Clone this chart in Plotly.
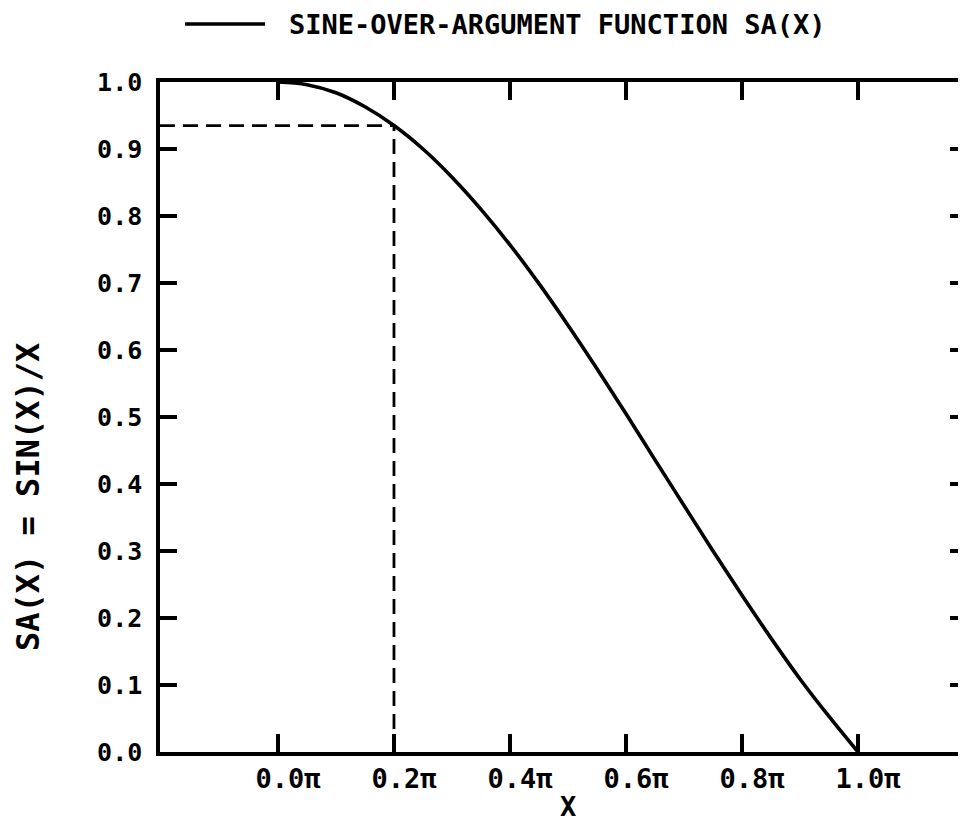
import plotly.graph_objects as go

# Curve values (x in units of pi)
x_pi = [0.0, 0.05, 0.1, 0.15, 0.2, 0.25, 0.3, 0.35, 0.4, 0.45, 0.5,
        0.55, 0.6, 0.65, 0.7, 0.75, 0.8, 0.85, 0.9, 0.95, 1.0]
sa_vals = [1.0, 0.996, 0.984, 0.963, 0.935, 0.900, 0.858, 0.810, 0.757, 0.699, 0.637,
           0.572, 0.505, 0.436, 0.368, 0.300, 0.234, 0.170, 0.109, 0.053, 0.0]

# Marked point (dashed guide lines)
mark_x = 0.2
mark_y = 0.935

x_ticks = [0.0, 0.2, 0.4, 0.6, 0.8, 1.0]
x_ticktext = ["0.0π", "0.2π", "0.4π", "0.6π", "0.8π", "1.0π"]
y_ticks = [0.0, 0.1, 0.2, 0.3, 0.4, 0.5, 0.6, 0.7, 0.8, 0.9, 1.0]
y_ticktext = ["0.0", "0.1", "0.2", "0.3", "0.4", "0.5", "0.6", "0.7", "0.8", "0.9", "1.0"]

x_range = [-0.2034, 1.1724]
y_range = [0.0, 1.0]

FONT = "DejaVu Sans Mono"

fig = go.Figure()

fig.add_trace(go.Scatter(x=[x_range[0], mark_x], y=[mark_y, mark_y], mode="lines",
                         line=dict(color="black", width=2.8, dash="15px,8px"),
                         showlegend=False, hoverinfo="skip"))
fig.add_trace(go.Scatter(x=[mark_x, mark_x], y=[y_range[0], mark_y], mode="lines",
                         line=dict(color="black", width=2.8, dash="15px,8px"),
                         showlegend=False, hoverinfo="skip"))

fig.add_trace(go.Scatter(x=x_pi, y=sa_vals, mode="lines",
                         line=dict(color="black", width=3.6, shape="spline"),
                         name="SINE-OVER-ARGUMENT FUNCTION SA(X)", showlegend=False))

# invisible trace on the right-hand axis so its ticks are drawn
fig.add_trace(go.Scatter(x=[x_range[0]], y=[y_range[0]], yaxis="y2", mode="lines",
                         line=dict(width=0), showlegend=False, hoverinfo="skip"))

PW, PH = 798, 670
fig.add_shape(type="line", xref="paper", yref="paper",
              x0=(185 - 160) / PW, x1=(265 - 160) / PW,
              y0=(752 - 24) / PH, y1=(752 - 24) / PH,
              line=dict(color="black", width=3.5))
fig.add_annotation(xref="paper", yref="paper", x=(287 - 160) / PW, y=(752 - 24) / PH,
                   text="<b>SINE-OVER-ARGUMENT FUNCTION SA(X)</b>", showarrow=False,
                   xanchor="left", yanchor="middle",
                   font=dict(family=FONT, size=27, color="black"))

fig.add_annotation(xref="paper", yref="paper", x=(28 - 160) / PW, y=(752 - 497) / PH,
                   text="<b>SA(X) = SIN(X)/X</b>", showarrow=False, textangle=-90,
                   xanchor="center", yanchor="middle",
                   font=dict(family=FONT, size=32, color="black"))
fig.add_annotation(xref="paper", yref="paper", x=(568 - 160) / PW, y=(752 - 806) / PH,
                   text="<b>X</b>", showarrow=False,
                   xanchor="center", yanchor="middle",
                   font=dict(family=FONT, size=27, color="black"))

fig.update_layout(
    width=950, height=820,
    margin=dict(l=152, r=0, t=74, b=76),
    paper_bgcolor="white", plot_bgcolor="white",
    showlegend=False,
    xaxis=dict(range=x_range, tickvals=x_ticks, ticktext=x_ticktext,
               ticks="inside", ticklen=18, tickwidth=3.5, tickcolor="black",
               showline=True, linewidth=3.5, linecolor="black", mirror="ticks",
               showgrid=False, zeroline=False, ticklabelstandoff=0,
               ticklabelshift=10,
               tickfont=dict(family=FONT, size=27, color="black", weight="bold")),
    yaxis=dict(range=y_range, tickvals=y_ticks, ticktext=y_ticktext,
               ticks="inside", ticklen=17, tickwidth=3.5, tickcolor="black",
               showline=True, linewidth=3.5, linecolor="black", mirror=False,
               showgrid=False, zeroline=False, ticklabelstandoff=9,
               tickfont=dict(family=FONT, size=25, color="black", weight="bold")),
    yaxis2=dict(range=y_range, tickvals=y_ticks, overlaying="y", side="right",
                ticks="inside", ticklen=8, tickwidth=3.5, tickcolor="black",
                showline=False, showticklabels=False, showgrid=False, zeroline=False),
)

fig.write_html("out.html")
